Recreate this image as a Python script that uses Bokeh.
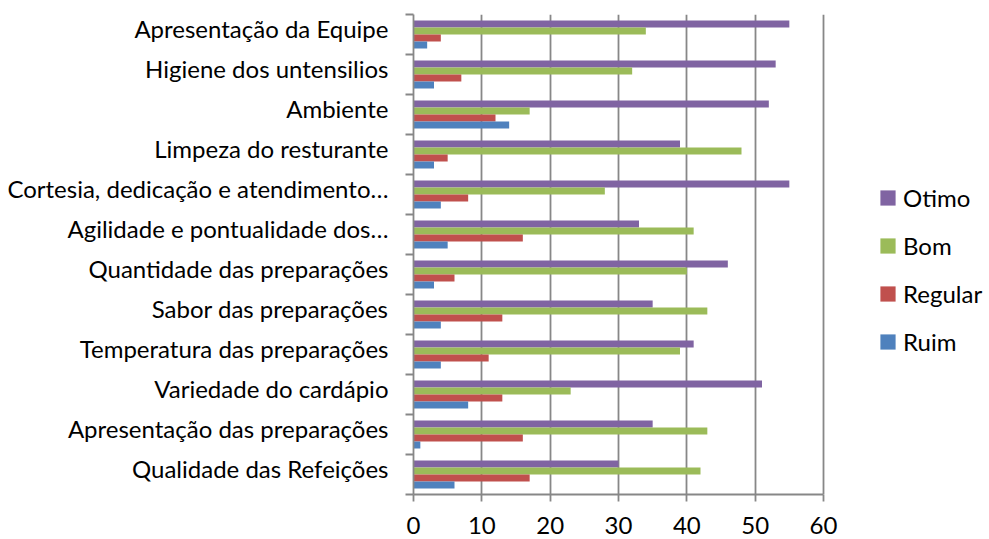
from bokeh.plotting import figure
from bokeh.models import (Range1d, LinearAxis, FixedTicker,
                          Legend, LegendItem, ColumnDataSource, Grid)
from bokeh.transform import dodge
from bokeh.embed import file_html
from bokeh.resources import INLINE

# categories, listed top to bottom as they appear in the chart
categories = [
    "Apresentação da Equipe",
    "Higiene dos untensilios",
    "Ambiente",
    "Limpeza do resturante",
    "Cortesia, dedicação e atendimento…",
    "Agilidade e pontualidade dos…",
    "Quantidade das preparações",
    "Sabor das preparações",
    "Temperatura das preparações",
    "Variedade do cardápio",
    "Apresentação das preparações",
    "Qualidade das Refeições",
]
otimo = [55, 53, 52, 39, 55, 33, 46, 35, 41, 51, 35, 30]
bom = [34, 32, 17, 48, 28, 41, 40, 43, 39, 23, 43, 42]
regular = [4, 7, 12, 5, 8, 16, 6, 13, 11, 13, 16, 17]
ruim = [2, 3, 14, 3, 4, 5, 3, 4, 4, 8, 1, 6]
series_names = ["Otimo", "Bom", "Regular", "Ruim"]
series_colors = ["#8064A2", "#9BBB59", "#C0504D", "#4F81BD"]
x_ticks = [0, 10, 20, 30, 40, 50, 60]
x_max = 60

FONT = "Lato"
FS = "24px"
GRAY = "#878787"
n = len(categories)
centers = [n - 0.5 - i for i in range(n)]
label_pos = [c + 0.140625 for c in centers]  # nudges the label text to sit like the original

src = ColumnDataSource(dict(pos=centers, Otimo=otimo, Bom=bom, Regular=regular, Ruim=ruim))

W, H = 989, 539
FRAME_L, FRAME_R, FRAME_T, FRAME_B = 413, 823, 14, 494
# the frame is widened to the right edge so the legend can sit inside it;
# the data axis itself is bounded to 0..60
x_end = x_max * (W - FRAME_L) / (FRAME_R - FRAME_L)

p = figure(width=W, height=H, y_range=Range1d(0, n), x_range=Range1d(0, x_end),
           output_backend="svg", toolbar_location=None,
           x_axis_location=None, y_axis_location=None,
           min_border_left=FRAME_L, min_border_right=0, min_border_top=FRAME_T,
           min_border_bottom=H - FRAME_B)
p.outline_line_color = None
p.background_fill_color = "white"
p.border_fill_color = "white"
p.center = [r for r in p.center if not isinstance(r, Grid)]

grid = Grid(dimension=0, ticker=FixedTicker(ticks=x_ticks), grid_line_color=GRAY, grid_line_width=1.8)
p.add_layout(grid)

bar_h = 0.175
offsets = [0.2625, 0.0875, -0.0875, -0.2625]
renderers = []
for name, col, off in zip(series_names, series_colors, offsets):
    r = p.hbar(y=dodge("pos", off), right=name, left=0, height=bar_h,
               source=src, fill_color=col, line_color=None)
    renderers.append(r)

# x axis
xaxis = LinearAxis(ticker=FixedTicker(ticks=x_ticks), bounds=(0, x_max))
xaxis.axis_line_color = GRAY
xaxis.axis_line_width = 1.8
xaxis.major_tick_line_color = GRAY
xaxis.major_tick_line_width = 1.8
xaxis.major_tick_out = 7
xaxis.major_tick_in = 0
xaxis.minor_tick_line_color = None
xaxis.major_label_text_font = FONT
xaxis.major_label_text_font_size = FS
xaxis.major_label_text_color = "#000000"
xaxis.major_label_standoff = 15
p.add_layout(xaxis, "below")

# y axis: tick marks between categories
tick_axis = LinearAxis(ticker=FixedTicker(ticks=list(range(n + 1))))
tick_axis.major_label_overrides = {i: "" for i in range(n + 1)}
tick_axis.major_label_text_font_size = "1px"
tick_axis.major_label_standoff = 0
tick_axis.axis_line_color = GRAY
tick_axis.axis_line_width = 1.8
tick_axis.major_tick_line_color = GRAY
tick_axis.major_tick_line_width = 1.8
tick_axis.major_tick_out = 8
tick_axis.major_tick_in = 0
tick_axis.minor_tick_line_color = None
p.add_layout(tick_axis, "left")

# y axis: category labels for each band
cat_axis = LinearAxis(ticker=FixedTicker(ticks=label_pos))
cat_axis.major_label_overrides = {c: lab for c, lab in zip(label_pos, categories)}
cat_axis.axis_line_color = None
cat_axis.major_tick_line_color = None
cat_axis.minor_tick_line_color = None
cat_axis.major_tick_out = 0
cat_axis.major_tick_in = 0
cat_axis.major_label_text_font = FONT
cat_axis.major_label_text_font_size = FS
cat_axis.major_label_text_color = "#000000"
cat_axis.major_label_standoff = 17
p.add_layout(cat_axis, "left")

legend = Legend(items=[LegendItem(label=s, renderers=[r]) for s, r in zip(series_names, renderers)],
                location=(878 - FRAME_L, FRAME_B - 356), orientation="vertical")
legend.glyph_width = 19
legend.glyph_height = 19
legend.label_height = 24
legend.spacing = 19
legend.padding = 0
legend.margin = 0
legend.label_standoff = 6
legend.border_line_color = None
legend.background_fill_alpha = 0
legend.label_text_font = FONT
legend.label_text_font_size = FS
legend.label_text_color = "#000000"
p.add_layout(legend, "center")

open("out.html", "w").write(file_html(p, INLINE))
